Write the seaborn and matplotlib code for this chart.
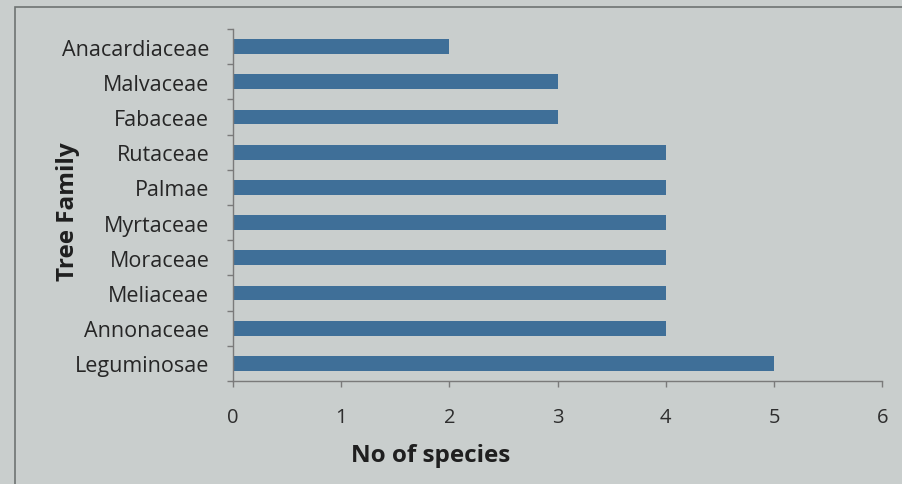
import matplotlib
matplotlib.use("Agg")
import matplotlib.pyplot as plt
import seaborn as sns
import pandas as pd
from matplotlib.patches import Rectangle

families = ["Anacardiaceae", "Malvaceae", "Fabaceae", "Rutaceae", "Palmae",
            "Myrtaceae", "Moraceae", "Meliaceae", "Annonaceae", "Leguminosae"]
species = [2, 3, 3, 4, 4, 4, 4, 4, 4, 5]
x_ticks = [0, 1, 2, 3, 4, 5, 6]

df = pd.DataFrame({"Tree Family": families, "No of species": species})

sns.set_theme(style="white")
plt.rcParams["font.family"] = ["Open Sans", "DejaVu Sans"]

bg = "#c9cecd"
fig = plt.figure(figsize=(9.03, 4.85), dpi=100, facecolor=bg)
ax = fig.add_axes([0.258, 0.2124, 0.719, 0.7256])
ax.set_facecolor(bg)

sns.barplot(data=df, y="Tree Family", x="No of species", orient="h",
            color="#3f6f98", saturation=1, width=0.42, linewidth=0, ax=ax)

ax.set_xlim(0, 6)
ax.set_ylim(len(families) - 0.5, -0.5)
ax.set_xticks(x_ticks)
ax.set_xticklabels([str(t) for t in x_ticks], fontsize=14.5, color="#2e2e2e")
ax.tick_params(axis="x", which="major", bottom=True, length=4.5, width=1,
               color="#7a7a7a", direction="out", pad=14)

# category ticks sit on the boundaries between bars
ax.set_yticks(range(len(families)))
ax.set_yticklabels(families, fontsize=15.5, color="#262626", fontweight="medium")
ax.tick_params(axis="y", which="major", length=0, pad=17)
ax.set_yticks([i - 0.5 for i in range(len(families) + 1)], minor=True)
ax.tick_params(axis="y", which="minor", left=True, length=4.5, width=1,
               color="#7a7a7a", direction="out")

for side in ["top", "right"]:
    ax.spines[side].set_visible(False)
for side in ["left", "bottom"]:
    ax.spines[side].set_color("#7a7a7a")
    ax.spines[side].set_linewidth(1)

ax.set_xlabel("No of species", fontsize=17.5, fontweight="bold", color="#1f1f1f")
ax.set_ylabel("Tree Family", fontsize=17.5, fontweight="bold", color="#1f1f1f")
ax.xaxis.set_label_coords(0.304, -0.175)
ax.yaxis.set_label_coords(-0.236, 0.483)

# chart area frame
fig.patches.append(Rectangle((15 / 903, -0.05), 1.0, 1 - 8 / 485 + 0.05,
                             transform=fig.transFigure, fill=False,
                             edgecolor="#6e7372", linewidth=1.2))

fig.savefig("out.png", dpi=100, facecolor=bg)
